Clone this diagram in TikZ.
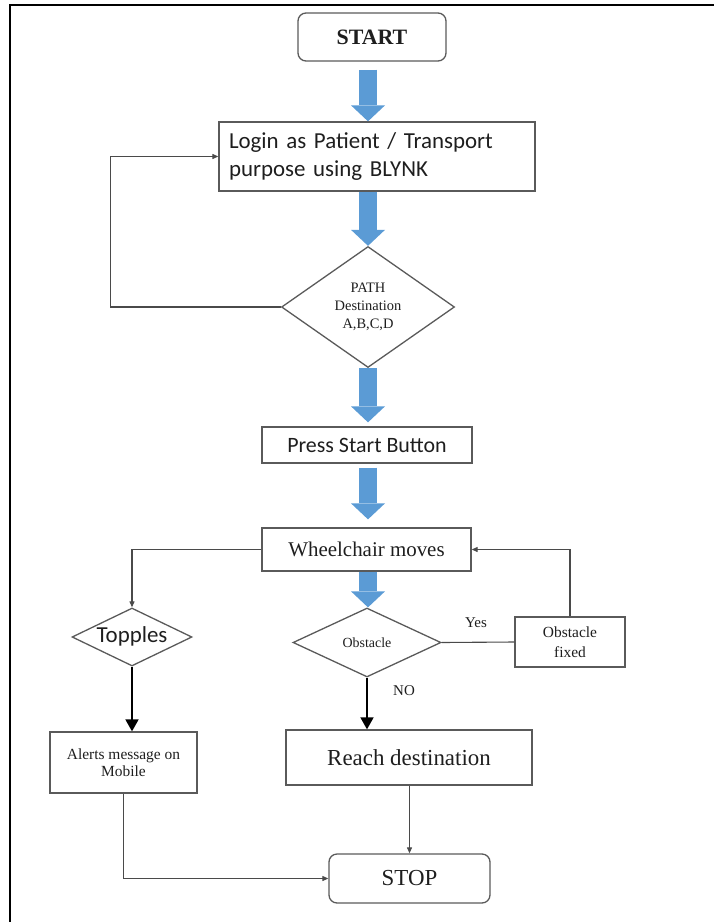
\documentclass[tikz,border=0pt]{standalone}
\usepackage{fontspec}
\setmainfont{Liberation Serif}
\newfontfamily\calib{Carlito}
\usetikzlibrary{arrows.meta,shapes.geometric,calc}
\definecolor{bluec}{HTML}{5B9BD5}
\definecolor{edgec}{HTML}{5A5A5A}
\definecolor{linec}{HTML}{4A4A4A}
\definecolor{textc}{HTML}{1E1E1E}
\begin{document}
\begin{tikzpicture}[x=1bp,y=-1bp,
  box/.style={draw=edgec, line width=1.3bp, rectangle, inner sep=2bp, text=textc, align=center},
  rbox/.style={box, rounded corners=8bp},
  dia/.style={draw=edgec, line width=1.3bp, diamond, inner sep=0pt, text=textc, align=center},
  barrow/.style={draw=bluec, line width=18bp, -{Triangle[length=16bp,width=34bp,line width=0pt]}},
  conn/.style={draw=linec, line width=1.1bp, -{Triangle[length=6bp,width=5bp]}},
  plain/.style={draw=linec, line width=1.1bp},
  bigconn/.style={draw=black, line width=1.8bp, -{Triangle[length=12bp,width=13bp]}},
  lbl/.style={text=textc, inner sep=0pt, font=\fontsize{15}{17}\selectfont}
]
\useasboundingbox (0,0) rectangle (714,922);
\draw[line width=2.2bp] (10,922) -- (10,5) -- (714,5);

\coordinate (ax) at (368,0);

\node[rbox, minimum width=148bp, minimum height=48bp, font=\fontsize{22}{26}\selectfont\bfseries] (start) at (372,37) {START};
\node[box, text width=296bp, align=left, inner xsep=10bp, minimum height=69bp, font=\calib\fontsize{23}{29}\selectfont] (login) at (377,156.5) {Login as Patient / Transport\\purpose using BLYNK};
\node[dia, minimum width=173bp, minimum height=121bp, aspect=1.43, font=\fontsize{14.5}{18}\selectfont] (path) at (368,307) {PATH\\Destination\\A,B,C,D};
\node[box, minimum width=210bp, minimum height=36bp, font=\calib\fontsize{22}{26}\selectfont] (press) at (367,445) {Press Start Button};
\node[box, minimum width=209bp, minimum height=43bp, font=\fontsize{21}{25}\selectfont] (wheel) at (366.5,549.5) {Wheelchair moves};
\node[dia, minimum width=120bp, minimum height=58bp, aspect=2.06, text height=13bp, text depth=3bp, font=\calib\fontsize{23}{27}\selectfont] (topples) at (132,637) {Topples};
\node[dia, minimum width=148bp, minimum height=69bp, aspect=2.1, font=\fontsize{14}{17}\selectfont] (obst) at (367,642.5) {Obstacle};
\node[box, minimum width=110bp, minimum height=50bp, font=\fontsize{15.5}{20}\selectfont] (fixed) at (570,642) {Obstacle\\fixed};
\node[box, minimum width=147bp, minimum height=61bp, font=\fontsize{15.5}{17}\selectfont] (alerts) at (123.5,762.5) {Alerts message on\\Mobile};
\node[box, minimum width=246bp, minimum height=55bp, font=\fontsize{23}{27}\selectfont] (reach) at (409,757.5) {Reach destination};
\node[rbox, minimum width=161bp, minimum height=49bp, font=\fontsize{23}{27}\selectfont] (stop) at (409.5,878.5) {STOP};

\node[lbl] (yes) at (476,623) {Yes};
\node[lbl] (no) at (404,691) {NO};

% blue block arrows
\draw[barrow, shorten <=8bp] (start.south -| ax) -- (login.north -| ax);
\draw[barrow] (login.south -| ax) -- (path.north -| ax);
\draw[barrow, shorten >=4bp] (path.south -| ax) -- (press.north -| ax);
\draw[barrow, shorten <=4bp, shorten >=8bp] (press.south -| ax) -- (wheel.north -| ax);
\draw[barrow] (wheel.south -| ax) -- (obst.north -| ax);

% feedback loop
\draw[conn] (path.west) -- ++(-170,0) |- (login.west);

% branches
\draw[conn] (wheel.west) -| (topples.north);
\draw[bigconn] (topples.south) -- (topples.south |- alerts.north);
\draw[bigconn] (obst.south) -- (obst.south |- reach.north);
\draw[plain] (obst.east) -- (fixed.west);
\draw[conn] (fixed.north) |- (wheel.east);
\draw[conn] (reach.south -| stop.north) -- (stop.north);
\draw[conn] (alerts.south) |- (stop.west);
\end{tikzpicture}
\end{document}
